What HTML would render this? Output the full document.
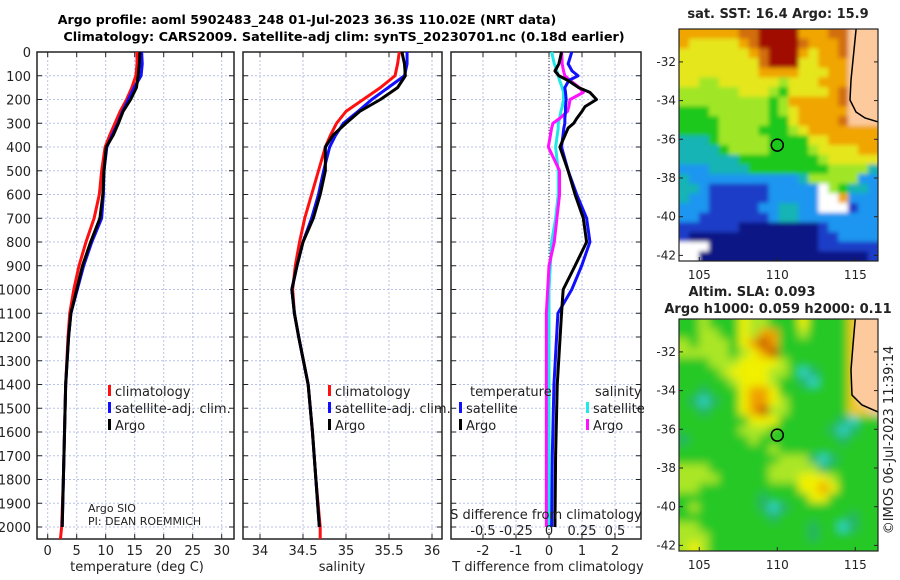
<!DOCTYPE html>
<html><head><meta charset="utf-8"><style>
body{margin:0;background:#fff}
svg{display:block;font-family:"DejaVu Sans","Liberation Sans",sans-serif}
</style></head><body>
<svg id="s" width="900" height="580" viewBox="0 0 900 580" xmlns="http://www.w3.org/2000/svg">
<defs>
<filter id="blurS" x="-5%" y="-5%" width="110%" height="110%"><feGaussianBlur stdDeviation="2"/></filter>
<filter id="blurL" x="-5%" y="-5%" width="110%" height="110%"><feGaussianBlur stdDeviation="4.5"/></filter>
<clipPath id="clipTop"><rect x="679" y="29" width="199" height="232"/></clipPath>
<clipPath id="clipBot"><rect x="679" y="319" width="199" height="232"/></clipPath>
</defs>
<rect width="900" height="580" fill="#fff"/>
<text x="307" y="24" text-anchor="middle" font-size="12.6" font-weight="bold">Argo profile: aoml 5902483_248 01-Jul-2023 36.3S 110.02E (NRT data)</text>
<text x="344" y="41" text-anchor="middle" font-size="12.8" font-weight="bold">Climatology: CARS2009. Satellite-adj clim: synTS_20230701.nc (0.18d earlier)</text>
<g id="g"></g>
</svg>
<script>
// ---- data ----
const depthT = [0,50,100,150,200,250,300,350,400,500,600,700,800,900,1000,1100,1200,1400,1600,1800,2000];
const tempClim = [15.4,15.4,15.2,14.5,13.6,12.5,11.6,10.7,9.9,9.3,8.9,8.0,6.6,5.4,4.5,3.8,3.5,3.1,2.9,2.7,2.4];
const tempSat  = [16.2,16.3,16.1,14.9,13.9,12.9,12.1,11.1,10.2,9.7,9.6,9.3,7.6,6.2,5.1,4.0,3.6,3.1,2.9,2.7,2.5];
const tempArgo = [15.9,15.8,15.6,15.3,14.3,13.0,12.2,11.3,10.1,9.7,9.5,9.0,7.4,6.0,5.0,4.0,3.6,3.1,2.9,2.7,2.5];
const salClim = [35.62,35.60,35.57,35.40,35.20,35.00,34.89,34.82,34.76,34.68,34.60,34.52,34.46,34.41,34.38,34.40,34.45,34.56,34.61,34.65,34.70];
const salSat  = [35.71,35.71,35.68,35.49,35.30,35.14,34.97,34.88,34.81,34.74,34.68,34.60,34.50,34.43,34.37,34.40,34.45,34.56,34.61,34.65,34.69];
const salArgo = [35.65,35.68,35.69,35.60,35.40,35.16,35.00,34.85,34.76,34.76,34.70,34.62,34.50,34.43,34.37,34.40,34.45,34.56,34.61,34.65,34.69];
const depthD = [0,50,80,100,120,150,170,200,230,250,280,300,320,400,500,600,700,800,900,1000,1100,1400,1700,2000];
const dTsat  = [0.69,0.58,0.7,0.88,0.6,0.48,0.5,0.52,0.5,0.5,0.48,0.48,0.45,0.38,0.58,0.84,1.14,1.24,0.99,0.69,0.27,0.15,0.1,0.08];
const dTargo = [0.38,0.3,0.18,0.3,0.58,0.9,1.24,1.44,1.09,1.0,0.84,0.75,0.58,0.33,0.58,0.79,1.04,1.14,0.79,0.43,0.38,0.25,0.2,0.18];
const dSsat  = [0.02,0.04,0.06,0.07,0.08,0.1,0.11,0.11,0.1,0.09,0.08,0.07,0.07,0.05,0.07,0.07,0.05,0.02,0.01,0.0,0.0,0.0,0.0,0.0];
const dSargo = [0.096,0.1,0.11,0.12,0.16,0.23,0.26,0.16,0.15,0.14,0.08,0.03,0.02,-0.005,0.08,0.08,0.06,0.04,0.0,-0.01,-0.02,-0.02,-0.02,-0.02];
const yTicks = [0,100,200,300,400,500,600,700,800,900,1000,1100,1200,1300,1400,1500,1600,1700,1800,1900,2000];
const tTicks = [0,5,10,15,20,25,30];
const sTicks = [34,34.5,35,35.5,36];
const dTTicks = [-2,-1,0,1,2];
const dSTicks = [-0.5,-0.25,0,0.25,0.5];
const latTicks = [-32,-34,-36,-38,-40,-42];
const lonTicks = [105,110,115];
const sstRows = [
"77777788999977788LLL","76666678999987778LLL","66666667899976778LLL","66666666899966777LLL",
"66666666777766677LLL","66556666665666777LLL","55555566654666678LLL","55555555545777778LLL",
"44455555545677777LLL","44445555544677778LLL","44445555444567777777","33345555544446677777",
"33334555544445666677","33333344444444566666","22233334444444455553","32222222222235555522",
"33211111122222W54332","32211111122222WW7222","22211111223322WWW122","22111111123322222222",
"11111100000000122222","10000000000000112222","WWW00000000000111111","WW000000000000000001"];
const slaRows = [
"00300043300040000YLL","00330043550030000YLL","30333045650000000YLL","33333034560000000YLL",
"00033344443000000YLL","00003444433021000YLL","00000344430012000YLL","00100045540000000YLL",
"01210045543000000YLL","00100045633000000YYL","00000004440000001200","00000033300000012100",
"10000003000000001000","00000000030000000000","00000000003331210000","33300000033333100000",
"33330000033344430000","33000000000044540000","00000000100004400000","03000000121000000000",
"00000000010000000100","33000000000001002100","33300000000001000000","34300000000000000000"];
const sstColors = {"0":"#0a1585","1":"#1a3cc8","2":"#1e96f0","3":"#14b4b4","4":"#1ec81e","5":"#a0e628","6":"#e6e61e","7":"#f0a500","8":"#d26e0a","9":"#a00a00","L":"#fcca9c","W":"#ffffff"};
const slaColors = {"0":"#28c828","1":"#28b464","2":"#32d2c8","3":"#aae628","4":"#f0f000","5":"#f0a000","6":"#be4600","L":"#fcca9c","Y":"#f0c800"};

const NS="http://www.w3.org/2000/svg";
const G=document.getElementById('g');
function mk(t,a,p){const e=document.createElementNS(NS,t);for(const k in a)e.setAttribute(k,a[k]);(p||G).appendChild(e);return e;}
const Y=d=>52+0.2375*d;
const YB=539;
function panel(name,x0,x1,xs,ticks,fmt,showY){
  const grid=mk('g',{});
  
  
  ticks.forEach(t=>{const x=xs(t);mk('line',{x1:x,x2:x,y1:52,y2:YB,stroke:'#b8c2e6','stroke-dasharray':'2,2','stroke-width':1},grid);});
  yTicks.forEach(d=>{const y=Y(d);mk('line',{x1:x0,x2:x1,y1:y,y2:y,stroke:'#b8c2e6','stroke-dasharray':'2,2','stroke-width':1},grid);
    mk('line',{x1:x0,x2:x0+5,y1:y,y2:y,stroke:'#222'},grid);mk('line',{x1:x1-5,x2:x1,y1:y,y2:y,stroke:'#222'},grid);
    if(showY){const t=mk('text',{x:x0-6,y:y+5,'text-anchor':'end','font-size':13,fill:'#222'});t.textContent=d;}});
  ticks.forEach(t=>{const x=xs(t);mk('line',{x1:x,x2:x,y1:YB-5,y2:YB,stroke:'#222'},grid);mk('line',{x1:x,x2:x,y1:52,y2:57,stroke:'#222'},grid);
    if(fmt){const e=mk('text',{x:x,y:555,'text-anchor':'middle','font-size':13,fill:'#222'});e.textContent=fmt(t);}});
  const r=mk('rect',{x:x0,y:52,width:x1-x0,height:YB-52,fill:'none',stroke:'#222','stroke-width':1.5});
  
  
}
function line(xs,vals,depths,col,name,w){
  const p=mk('polyline',{points:vals.map((v,i)=>xs(v)+','+Y(depths[i])).join(' '),fill:'none',stroke:col,'stroke-width':w||3,'stroke-linejoin':'round'});
  
  
}
function txt(x,y,s,size,name,anchor,bold){const t=mk('text',{x:x,y:y,'font-size':size,fill:'#222','text-anchor':anchor||'start','font-weight':bold?'bold':'normal'});t.textContent=s;return t;}
function leg(x,y,col,label,name){const r=mk('rect',{x:x,y:y-11,width:3,height:11,fill:col});txt(x+7,y,label,13,name);}

// panel 1
const xT=t=>47.7+5.8*t;
panel('temperature-panel',37,234,xT,tTicks,t=>t,true);
line(xT,tempClim.concat([2.2]),depthT.concat([2050]),'#ff1010','temp-climatology-line');
line(xT,tempSat,depthT,'#1010ff','temp-satellite-line');
line(xT,tempArgo,depthT,'#000','temp-argo-line');
leg(108,396,'#ff1010','climatology','legend-climatology');
leg(108,413,'#1010ff','satellite-adj. clim.','legend-satellite-adj');
leg(108,430,'#000','Argo','legend-argo');
txt(88,512,'Argo SIO',11,'institution-label');
txt(88,525,'PI: DEAN ROEMMICH',11,'pi-label');
txt(137,571,'temperature (deg C)',13,'x-axis-title-temperature','middle');
// panel 2
const xS=s=>260+86*(s-34);
panel('salinity-panel',243,442,xS,sTicks,s=>s,false);
line(xS,salClim.concat([34.70]),depthT.concat([2050]),'#ff1010','sal-climatology-line');
line(xS,salSat,depthT,'#1010ff','sal-satellite-line');
line(xS,salArgo,depthT,'#000','sal-argo-line');
leg(328,396,'#ff1010','climatology','legend-climatology-2');
leg(328,413,'#1010ff','satellite-adj. clim.','legend-satellite-adj-2');
leg(328,430,'#000','Argo','legend-argo-2');
txt(342,571,'salinity',13,'x-axis-title-salinity','middle');
// panel 3
const xdT=v=>549+33*v, xdS=v=>549+132*v;
panel('difference-panel',451,641,xdT,dTTicks,t=>t,false);
mk('line',{x1:549,x2:549,y1:52,y2:YB,stroke:'#333','stroke-dasharray':'1,2'});
line(xdS,dSsat,depthD,'#20e8e8','sal-diff-satellite-line');
line(xdS,dSargo,depthD,'#ff10ff','sal-diff-argo-line');
line(xdT,dTsat,depthD,'#1010ff','temp-diff-satellite-line');
line(xdT,dTargo,depthD,'#000','temp-diff-argo-line');
txt(470,396,'temperature',13,'legend-temperature-header');
leg(459,413,'#1010ff','satellite','legend-temp-satellite');
leg(459,430,'#000','Argo','legend-temp-argo');
txt(595,396,'salinity',13,'legend-salinity-header');
leg(586,413,'#20e8e8','satellite','legend-sal-satellite');
leg(586,430,'#ff10ff','Argo','legend-sal-argo');
txt(546,519,'S difference from climatology',13,'s-axis-title','middle');
dSTicks.forEach(v=>txt(xdS(v),535,String(v),13,'s-tick-label','middle'));
txt(548,571,'T difference from climatology',13,'x-axis-title-tdiff','middle');

// maps
function map(name,top,rows,colors,land,clip,filt,titles){
  const x0=679,x1=878,y1=top+232;
  const g=mk('g',{});
  
  
  const cg=mk('g',{'clip-path':'url(#'+clip+')'},g);
  const fg=mk('g',{filter:'url(#'+filt+')'},cg);
  const cw=(x1-x0)/20,ch=(y1-top)/24,E=14;
  rows.forEach((r,i)=>{for(let j=0;j<r.length;j++){
    let x=x0+j*cw,y=top+i*ch,w=cw+0.6,h=ch+0.6;
    if(j==0){x-=E;w+=E;} if(j==r.length-1){w+=E;}
    if(i==0){y-=E;h+=E;} if(i==rows.length-1){h+=E;}
    mk('rect',{x:x,y:y,width:w,height:h,fill:colors[r[j]]},fg);}});
  const lp=mk('path',{d:land,fill:'#fcca9c',stroke:'#000','stroke-width':1.5},cg);
  
  
  const lonX=l=>x0+(l-103.7)*15.6, latY=l=>top+(-30.3-l)*19.35;
  const c=mk('circle',{cx:lonX(110),cy:latY(-36.3),r:6,fill:'none',stroke:'#000','stroke-width':1.5},g);
  
  
  mk('rect',{x:x0,y:top,width:x1-x0,height:y1-top,fill:'none',stroke:'#222','stroke-width':1.2},g);
  latTicks.forEach(l=>{const y=latY(l);mk('line',{x1:x0,x2:x0+4,y1:y,y2:y,stroke:'#222'},g);mk('line',{x1:x1-4,x2:x1,y1:y,y2:y,stroke:'#222'},g);txt(x0-3,y+4,String(l),12,'lat-tick-label','end');});
  lonTicks.forEach(l=>{const x=lonX(l);mk('line',{x1:x,x2:x,y1:y1-4,y2:y1,stroke:'#222'},g);txt(x,y1+18,String(l),12,'lon-tick-label','middle');});
  titles.forEach((t,i)=>txt(t[1],t[2],t[0],13,name+'-title-'+i,'middle',true));
}
map('sst-map',29,sstRows,sstColors,'M885,20 L857,20 L853,60 L851,80 L850,100 L856,112 L865,118 L885,124 Z','clipTop','blurS',[['sat. SST: 16.4 Argo: 15.9',778,18]]);
map('sla-map',319,slaRows,slaColors,'M885,310 L856,310 L853,345 L851,370 L852,395 L862,405 L885,415 Z','clipBot','blurL',[['Altim. SLA: 0.093',752,296],['Argo h1000: 0.059 h2000: 0.11',778,313]]);
const rt=txt(0,0,'©IMOS 06-Jul-2023 11:39:14',13,'copyright-timestamp','middle');
rt.setAttribute('transform','translate(893,440) rotate(-90)');
</script>
</body></html>
